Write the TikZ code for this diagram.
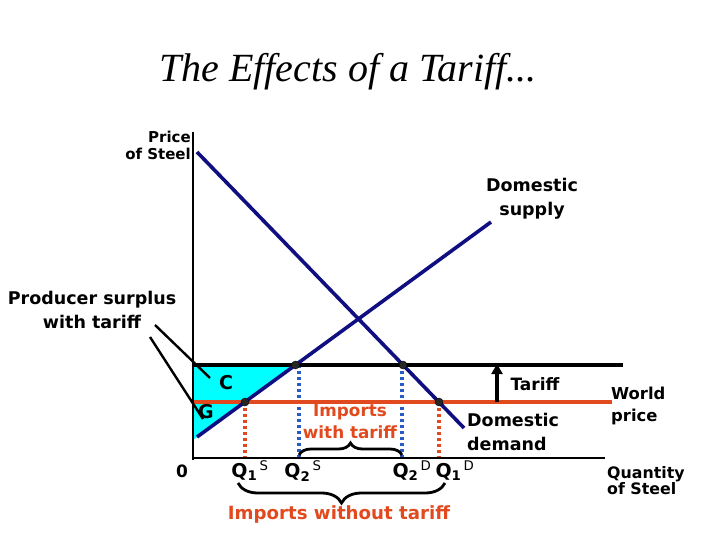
\documentclass[tikz,border=0pt]{standalone}
\usepackage{fontspec}
\setmainfont{DejaVu Sans}
\newfontfamily\titlefont{Liberation Serif}
\usetikzlibrary{decorations.pathreplacing,arrows.meta}
\definecolor{navy}{RGB}{15,15,130}
\definecolor{orng}{RGB}{224,74,30}
\definecolor{cyn}{RGB}{0,255,255}
\definecolor{dotblue}{RGB}{40,90,200}
\begin{document}
\begin{tikzpicture}[x=1pt,y=-1pt,
  lbl/.style={font=\bfseries\fontsize{17.5}{24}\selectfont, align=center, inner sep=0pt},
  qlbl/.style={font=\bfseries\fontsize{19}{22}\selectfont, inner sep=0pt},
  axis/.style={line width=2.6pt, black},
  curve/.style={line width=3.6pt, navy},
  pt/.style={circle, fill=black!85, draw=black, inner sep=0pt, minimum size=8pt},
  odot/.style={orng, line width=3.2pt, dash pattern=on 3pt off 3pt},
  bdot/.style={dotblue, line width=3.2pt, dash pattern=on 3pt off 3pt},
  brc/.style={line width=2.8pt, decorate}]
\useasboundingbox (0,0) rectangle (720,540);

% title
\node (title) at (348,72) {\titlefont\itshape\fontsize{40}{44}\selectfont The Effects of a Tariff...};

% coordinates
\coordinate (O) at (193,458);
\coordinate (Ytop) at (193,132);
\coordinate (Xend) at (605,458);
\coordinate (S0) at (197,437);
\coordinate (S1) at (491,222);
\coordinate (D0) at (197,152);
\coordinate (D1) at (464,428);

% cyan area
\fill[cyn] (193,365) -- (295.5,365) -- (197,437) -- (193,440) -- cycle;

% dotted verticals
\draw[odot] (245,402) -- (245,457);
\draw[odot] (439,402) -- (439,457);
\draw[bdot] (299,365) -- (299,457);
\draw[bdot] (402,365) -- (402,457);

% price lines
\draw[line width=3.4pt, black] (193,365) -- (623,365);
\draw[line width=3.4pt, orng] (193,402) -- (612,402);

% axes
\draw[axis] (Ytop) -- (193,460);
\draw[axis] (191.7,458) -- (Xend);

% curves
\draw[curve] (S0) -- (S1);
\draw[curve] (D0) -- (D1);

% points
\node[pt] (p1) at (245,402) {};
\node[pt] (p2) at (295.5,365) {};
\node[pt] (p3) at (403,365) {};
\node[pt] (p4) at (439,402) {};

% tariff arrow
\coordinate (ta) at (497,402);
\coordinate (tb) at (497,364);
\draw[line width=4.2pt, -{Triangle[length=10pt,width=11pt]}] (ta) -- (tb);

% labels
\node[lbl, align=right, anchor=east, font=\bfseries\fontsize{15}{17}\selectfont] (price) at (191,145) {Price\\of Steel};
\node[lbl] (dsup) at (532,199) {Domestic\\supply};
\node[lbl] (ps) at (92,310) {Producer surplus\\with tariff};
\node[lbl, font=\bfseries\fontsize{17}{20}\selectfont] (tariff) at (535,384) {Tariff};
\node[lbl, align=left, anchor=west] (ddem) at (467,432) {Domestic\\demand};
\node[lbl, align=left, anchor=west, font=\bfseries\fontsize{16.4}{22}\selectfont] (world) at (611,406) {World\\price};
\node[lbl, align=left, anchor=west, font=\bfseries\fontsize{15.8}{16}\selectfont] (qty) at (607,481) {Quantity\\of Steel};
\node[lbl, font=\bfseries\fontsize{19}{20}\selectfont] (C) at (226,383) {C};
\node[lbl, font=\bfseries\fontsize{19}{20}\selectfont] (G) at (206,412) {G};

% pointer lines
\draw[line width=2.4pt] (155,325) -- (210,378);
\draw[line width=2.4pt] (150,337) -- (203,419);

% axis labels
\node[qlbl, font=\bfseries\fontsize{17}{20}\selectfont] (zero) at (182,471) {0};
\node[qlbl] (q1s) at (250,471) {Q\textsubscript{1}\textsuperscript{\,\mdseries S}};
\node[qlbl] (q2s) at (303,471) {Q\textsubscript{2}\textsuperscript{\,\mdseries S}};
\node[qlbl] (q2d) at (412,471) {Q\textsubscript{2}\textsuperscript{\,\mdseries D}};
\node[qlbl] (q1d) at (455,471) {Q\textsubscript{1}\textsuperscript{\,\mdseries D}};

% braces
\draw[brc, decoration={brace, amplitude=12pt}] (299,455) -- (402,455);
\draw[brc, decoration={brace, amplitude=20pt}] (445,483) -- (238,483);

\node[lbl, orng, font=\bfseries\fontsize{16.8}{22}\selectfont] (imwt) at (350,421) {Imports\\with tariff};
\node[lbl, orng, font=\bfseries\fontsize{18.2}{20}\selectfont] (imwo) at (339,514) {Imports without tariff};
\end{tikzpicture}
\end{document}
